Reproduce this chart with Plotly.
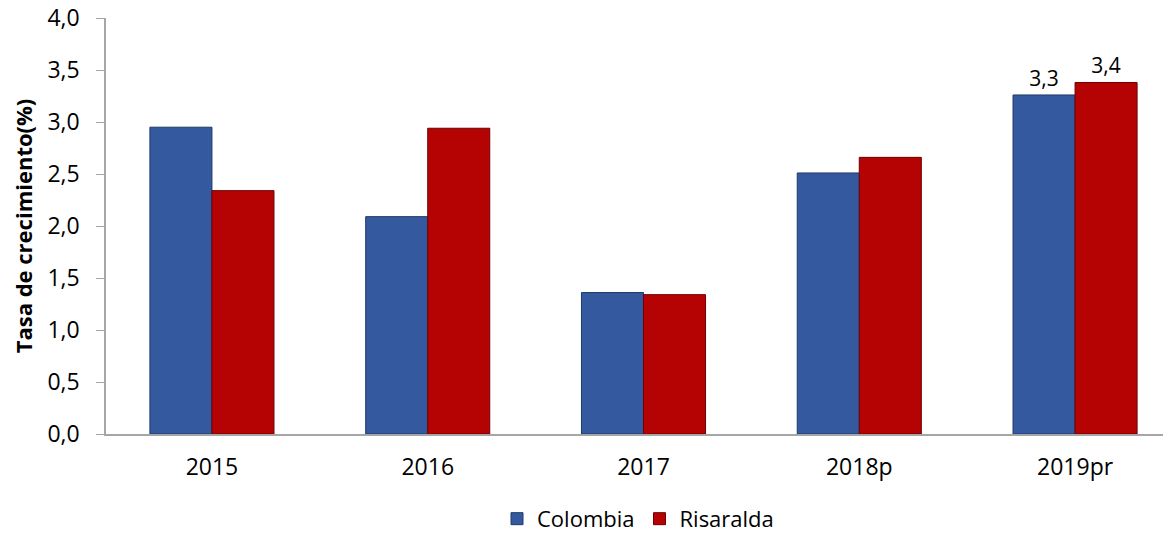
import plotly.graph_objects as go

years = ["2015", "2016", "2017", "2018p", "2019pr"]
colombia = [2.95, 2.09, 1.36, 2.51, 3.26]
risaralda = [2.34, 2.94, 1.34, 2.66, 3.38]
colombia_labels = ["", "", "", "", "3,3"]
risaralda_labels = ["", "", "", "", "3,4"]

font_family = "Open Sans, Liberation Sans, sans-serif"

fig = go.Figure()
fig.add_trace(go.Bar(
    x=years, y=colombia, name="Colombia",
    marker=dict(color="#34599E", line=dict(color="#1E3A6B", width=1)),
    text=colombia_labels, textposition="outside", cliponaxis=False,
    textfont=dict(size=21, color="#000000", family=font_family),
))
fig.add_trace(go.Bar(
    x=years, y=risaralda, name="Risaralda",
    marker=dict(color="#B50303", line=dict(color="#6E0000", width=1)),
    text=risaralda_labels, textposition="outside", cliponaxis=False,
    textfont=dict(size=21, color="#000000", family=font_family),
))

fig.update_layout(
    width=1171, height=535,
    margin=dict(l=98, r=9, t=10, b=109, autoexpand=False),
    paper_bgcolor="white", plot_bgcolor="white",
    barmode="group", bargap=0.425, bargroupgap=0,
    separators=",.",
    font=dict(family=font_family, size=21, color="#000000"),
    showlegend=True,
    legend=dict(orientation="h", x=0.5, xanchor="center", y=-0.204, yanchor="middle",
                font=dict(size=22), itemwidth=30, traceorder="normal"),
    xaxis=dict(range=[-0.491, 4.44], showline=True, linecolor="#A6A6A6", linewidth=1.5,
               ticks="", tickfont=dict(size=23), showgrid=False, ticklabelstandoff=12,
               automargin=False),
    yaxis=dict(range=[0, 4], dtick=0.5, tickformat=".1f", showline=True,
               linecolor="#A6A6A6", linewidth=1.5, ticks="outside", ticklen=8,
               tickcolor="#A6A6A6", showgrid=False, zeroline=False,
               tickfont=dict(size=23), ticklabelstandoff=12, automargin=False,
               ticklabeloverflow="allow",
               title=dict(text="<b>Tasa de crecimiento(%)</b>", font=dict(size=22), standoff=12)),
)

fig.write_html("out.html")
